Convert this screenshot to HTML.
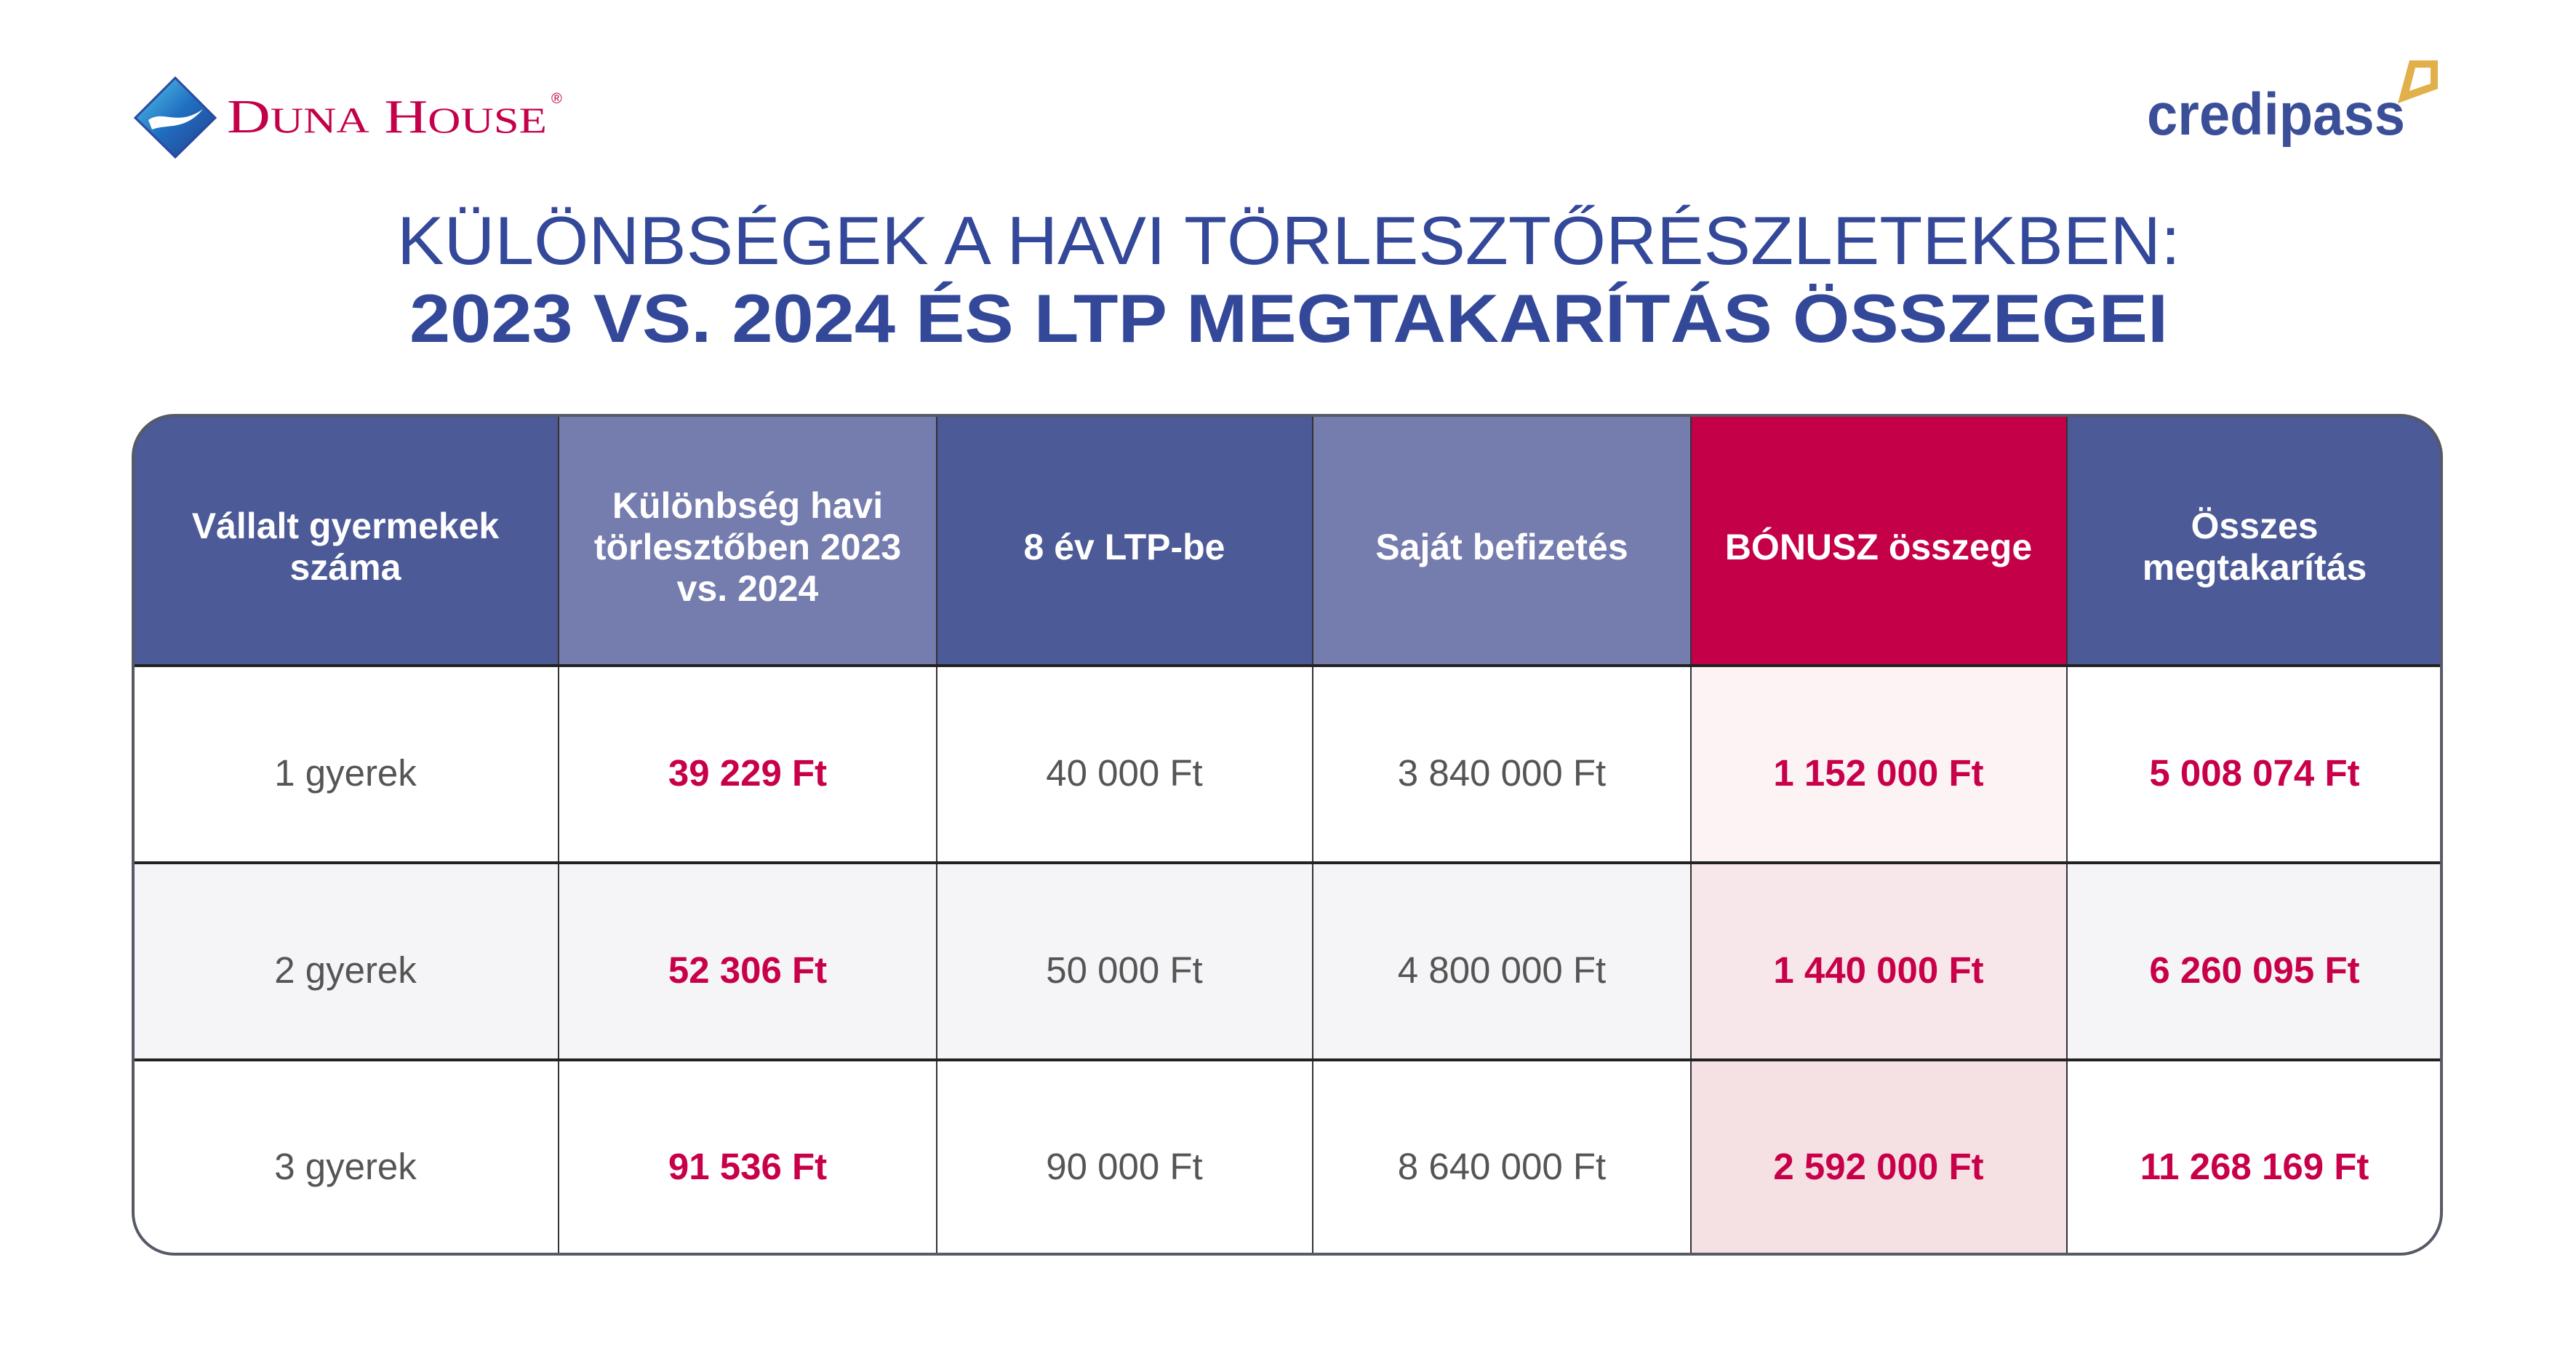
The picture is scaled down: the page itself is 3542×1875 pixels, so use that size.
<!DOCTYPE html>
<html><head><meta charset="utf-8"><style>
html,body{margin:0;padding:0;background:#fff;}
svg{display:block}
</style></head><body>
<svg width="3542" height="1875" viewBox="0 0 3542 1875" xmlns="http://www.w3.org/2000/svg">
<rect width="3542" height="1875" fill="#fff"/>
<defs>
<linearGradient id="dg" x1="0" y1="0" x2="1" y2="1">
<stop offset="0" stop-color="#5ac8f0"/><stop offset="0.5" stop-color="#1f6fc0"/><stop offset="1" stop-color="#283a8c"/>
</linearGradient>
<clipPath id="tc"><rect x="183" y="571" width="3174" height="1153" rx="57" ry="57"/></clipPath>
</defs>
<polygon points="241,107 296,162 241,216 186,162" fill="url(#dg)" stroke="#2a4aa0" stroke-width="3"/>
<path d="M204,165 C224,150 244,175 279,150 C254,180 229,170 209,178 Z" fill="#fff"/>
<text x="312" y="182" font-family="Liberation Serif, serif" font-size="66" fill="#c4004b" textLength="440" lengthAdjust="spacingAndGlyphs">D<tspan font-size="50">UNA</tspan> H<tspan font-size="50">OUSE</tspan></text>
<text x="758" y="142" font-family="Liberation Sans, sans-serif" font-size="20" fill="#c4004b">®</text>
<text x="2952" y="185" font-family="Liberation Sans, sans-serif" font-weight="bold" font-size="82" fill="#3a4f98" textLength="355" lengthAdjust="spacingAndGlyphs">credipass</text>
<path d="M3313,83 L3352,83 L3352,122 L3297,142 Z M3321,93 L3313,125 L3342,115 L3342,93 Z" fill="#e2b04a" fill-rule="evenodd"/>
<text x="1772" y="363" text-anchor="middle" font-family="Liberation Sans, sans-serif" font-size="94" fill="#34489a" textLength="2452" lengthAdjust="spacingAndGlyphs">KÜLÖNBSÉGEK A HAVI TÖRLESZTŐRÉSZLETEKBEN:</text>
<text x="1772" y="470" text-anchor="middle" font-family="Liberation Sans, sans-serif" font-weight="bold" font-size="94" fill="#34489a" textLength="2418" lengthAdjust="spacingAndGlyphs">2023 VS. 2024 ÉS LTP MEGTAKARÍTÁS ÖSSZEGEI</text>
<g clip-path="url(#tc)">
<rect x="183" y="571" width="3174" height="1153" fill="#fff"/>
<rect x="183" y="571" width="585" height="344" fill="#4c5a98"/>
<rect x="768" y="571" width="520" height="344" fill="#757cae"/>
<rect x="1288" y="571" width="517" height="344" fill="#4c5a98"/>
<rect x="1805" y="571" width="520" height="344" fill="#757cae"/>
<rect x="2325" y="571" width="517" height="344" fill="#c40048"/>
<rect x="2842" y="571" width="515" height="344" fill="#4c5a98"/>
<rect x="183" y="1186" width="3174" height="271" fill="#f5f5f7"/>
<rect x="2325" y="915" width="517" height="271" fill="#fcf3f4"/>
<rect x="2325" y="1186" width="517" height="271" fill="#f8e7ea"/>
<rect x="2325" y="1457" width="517" height="267" fill="#f5e0e3"/>
<g stroke="#333" stroke-width="2">
<line x1="768" y1="571" x2="768" y2="1724"/>
<line x1="1288" y1="571" x2="1288" y2="1724"/>
<line x1="1805" y1="571" x2="1805" y2="1724"/>
<line x1="2325" y1="571" x2="2325" y2="1724"/>
<line x1="2842" y1="571" x2="2842" y2="1724"/>
</g>
<g stroke="#222" stroke-width="4">
<line x1="183" y1="915" x2="3357" y2="915"/>
<line x1="183" y1="1186" x2="3357" y2="1186"/>
<line x1="183" y1="1457" x2="3357" y2="1457"/>
</g>
</g>
<rect x="183" y="571" width="3174" height="1153" rx="57" ry="57" fill="none" stroke="#555a66" stroke-width="4"/>
<g font-family="Liberation Sans, sans-serif" font-weight="bold" font-size="50" fill="#fff" text-anchor="middle">
<text x="475" y="740">Vállalt gyermekek</text><text x="475" y="797">száma</text>
<text x="1028" y="712">Különbség havi</text><text x="1028" y="769">törlesztőben 2023</text><text x="1028" y="826">vs. 2024</text>
<text x="1546" y="769">8 év LTP-be</text>
<text x="2065" y="769">Saját befizetés</text>
<text x="2583" y="769">BÓNUSZ összege</text>
<text x="3100" y="740">Összes</text><text x="3100" y="797">megtakarítás</text>
</g>
<g font-family="Liberation Sans, sans-serif" font-size="51" fill="#555" text-anchor="middle">
<text x="475" y="1080">1 gyerek</text><text x="475" y="1351">2 gyerek</text><text x="475" y="1621">3 gyerek</text>
<text x="1546" y="1080">40 000 Ft</text><text x="1546" y="1351">50 000 Ft</text><text x="1546" y="1621">90 000 Ft</text>
<text x="2065" y="1080">3 840 000 Ft</text><text x="2065" y="1351">4 800 000 Ft</text><text x="2065" y="1621">8 640 000 Ft</text>
</g>
<g font-family="Liberation Sans, sans-serif" font-weight="bold" font-size="51" fill="#c8004a" text-anchor="middle">
<text x="1028" y="1080">39 229 Ft</text><text x="1028" y="1351">52 306 Ft</text><text x="1028" y="1621">91 536 Ft</text>
<text x="2583" y="1080">1 152 000 Ft</text><text x="2583" y="1351">1 440 000 Ft</text><text x="2583" y="1621">2 592 000 Ft</text>
<text x="3100" y="1080">5 008 074 Ft</text><text x="3100" y="1351">6 260 095 Ft</text><text x="3100" y="1621">11 268 169 Ft</text>
</g>
</svg>
</body></html>
